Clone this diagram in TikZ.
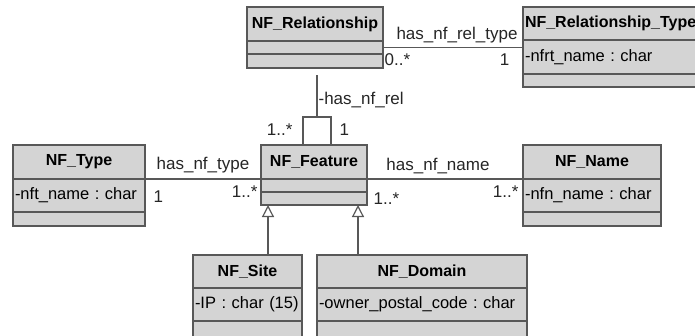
\documentclass[tikz,border=0pt]{standalone}
\usepackage{fontspec}
\setmainfont{Liberation Sans}
\usetikzlibrary{arrows.meta,positioning}
\definecolor{umlfill}{RGB}{212,212,212}
\definecolor{umlline}{RGB}{88,88,88}
\tikzset{
  part/.style={draw=umlline, fill=umlfill, line width=1.2pt, outer sep=0pt,
    inner xsep=2pt, inner ysep=0pt, anchor=north west},
  head/.style={part, minimum height=34pt, align=center, font=\fontsize{16}{19}\selectfont\bfseries},
  attr/.style={part, minimum height=33pt, align=left, font=\fontsize{16.5}{20}\selectfont},
  slot/.style={part, minimum height=14pt},
  conn/.style={draw=umlline, line width=1.2pt},
  gen/.style={conn, -{Triangle[open,width=12pt,length=12pt]}},
  lbl/.style={inner sep=1pt, text=black!85, font=\fontsize{17}{20}\selectfont},
}
\frenchspacing
\begin{document}
\begin{tikzpicture}[x=1pt,y=-1pt]
\path[fill=white,use as bounding box] (0,0) rectangle (695,335);
\clip (0,0) rectangle (695,335);
% classes
\node[head, text width=132pt] (rel-t) at (247,7) {NF\_Relationship};
\node[slot, text width=132pt, minimum height=13pt, below=0pt of rel-t] (rel-a) {};
\node[slot, text width=132pt, below=0pt of rel-a] (rel-o) {};
\node[head, text width=176pt, align=left, minimum height=33pt] (reltype-t) at (523,7) {NF\_Relationship\_Type};
\node[attr, text width=176pt, minimum height=34pt, below=0pt of reltype-t] (reltype-a) {-nfrt\_name : char};
\node[slot, text width=176pt, minimum height=13pt, below=0pt of reltype-a] (reltype-o) {};
\node[head, text width=128pt] (type-t) at (13,145) {NF\_Type};
\node[attr, text width=128pt, below=0pt of type-t] (type-a) {-nft\_name : char};
\node[slot, text width=128pt, below=0pt of type-a] (type-o) {};
\node[head, text width=102pt] (feat-t) at (261,145) {NF\_Feature};
\node[slot, text width=102pt, minimum height=13pt, below=0pt of feat-t] (feat-a) {};
\node[slot, text width=102pt, minimum height=13pt, below=0pt of feat-a] (feat-o) {};
\node[head, text width=134pt] (name-t) at (523,145) {NF\_Name};
\node[attr, text width=134pt, below=0pt of name-t] (name-a) {-nfn\_name : char};
\node[slot, text width=134pt, below=0pt of name-a] (name-o) {};
\node[head, text width=105pt, minimum height=33pt] (site-t) at (193,255) {NF\_Site};
\node[attr, text width=105pt, below=0pt of site-t] (site-a) {-IP : char (15)};
\node[slot, text width=105pt, minimum height=20pt, below=0pt of site-a] (site-o) {};
\node[head, text width=206pt, minimum height=33pt] (dom-t) at (317,255) {NF\_Domain};
\node[attr, text width=206pt, below=0pt of dom-t] (dom-a) {-owner\_postal\_code : char};
\node[slot, text width=206pt, minimum height=20pt, below=0pt of dom-a] (dom-o) {};
% associations
\draw[conn] (rel-a.east) -- (rel-a.east -| reltype-t.west)
  node[lbl, midway, above=1pt, xshift=4pt, yshift=2pt] (a1) {has\_nf\_rel\_type}
  node[lbl, pos=0, anchor=north west, yshift=-5pt] (m1) {0..*}
  node[lbl, pos=1, anchor=north east, xshift=-12pt, yshift=-5pt] (m2) {1};
\draw[conn] (type-a.north east) -- (feat-a.north west)
  node[lbl, midway, above=1pt, yshift=3pt] (a2) {has\_nf\_type}
  node[lbl, pos=0, anchor=north west, xshift=7pt, yshift=-10pt] (m3) {1}
  node[lbl, pos=1, anchor=north east, xshift=-2pt, yshift=-5pt] (m4) {1..*};
\draw[conn] (feat-a.north east) -- (name-a.north west)
  node[lbl, midway, above=1pt, xshift=-7pt, yshift=3pt] (a3) {has\_nf\_name}
  node[lbl, pos=0, anchor=north west, xshift=5pt, yshift=-12pt] (m5) {1..*}
  node[lbl, pos=1, anchor=north east, xshift=-3pt, yshift=-5pt] (m6) {1..*};
% self association with its class link
\coordinate (loopL) at (303,117);
\coordinate (loopR) at (331,117);
\coordinate (loop) at (317,117);
\draw[conn] (feat-t.north -| loopL) -- (loopL)
  node[lbl, anchor=north east, xshift=-9pt, yshift=-5pt] (m7) {1..*}
  -- (loopR) node[lbl, anchor=north west, xshift=7pt, yshift=-5pt] (m8) {1}
  -- (feat-t.north -| loopR);
\draw[conn, shorten >=7pt] (loop) -- (loop |- rel-o.south)
  node[lbl, pos=0.35, anchor=west, fill=white] (a4) {-has\_nf\_rel};
% generalizations
\coordinate (gsite) at ([xshift=-46pt]feat-o.south);
\coordinate (gdom) at ([xshift=44pt]feat-o.south);
\draw[gen] (site-t.north -| gsite) -- (gsite);
\draw[gen] (dom-t.north -| gdom) -- (gdom);
\end{tikzpicture}
\end{document}
